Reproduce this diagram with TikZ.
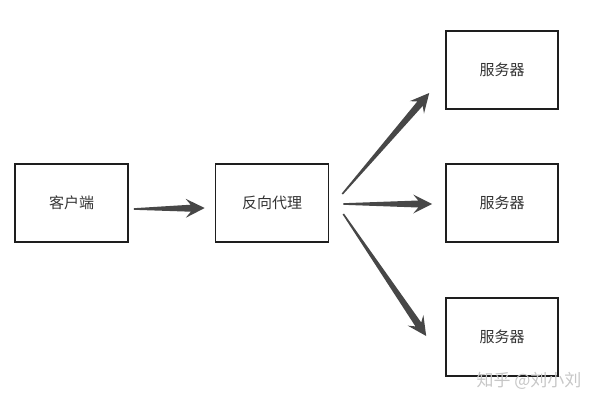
\documentclass[tikz,border=0pt]{standalone}
\usepackage{fontspec}
\newfontfamily\cjk{Noto Sans CJK SC}
\usetikzlibrary{calc}
\definecolor{boxline}{HTML}{1E1E1E}
\definecolor{arrowgray}{HTML}{474747}
\tikzset{
    box/.style={draw=boxline, line width=1.6pt, minimum width=113pt, minimum height=78pt,
        inner sep=0pt, font=\cjk\fontsize{15}{17}\selectfont, text=black!80},
}
% tapered arrow from #1 to #2
\newcommand{\taperarrow}[2]{
    \coordinate (hb) at ($(#2)!19pt!(#1)$);
    \coordinate (hj) at ($(#2)!14pt!(#1)$);
    \fill[arrowgray] ($(#1)!0.8pt!90:(#2)$) -- ($(hj)!3.5pt!90:(#2)$) -- ($(hb)!9.5pt!90:(#2)$)
        -- (#2) -- ($(hb)!9.5pt!-90:(#2)$) -- ($(hj)!3.5pt!-90:(#2)$) -- ($(#1)!0.8pt!-90:(#2)$) -- cycle;
}
\begin{document}
\begin{tikzpicture}[x=1pt, y=-1pt]
    \useasboundingbox (0,0) rectangle (600,400);
    \node[box] (client) at (71.5,203) {客户端};
    \node[box] (proxy) at (272,203) {反向代理};
    \foreach \i/\y in {1/70, 2/203, 3/337} {
        \node[box, minimum width=112pt] (server\i) at (502,\y) {服务器};
    }
    % arrow ends
    \coordinate (a0) at ($(client.east)+(5,6)$);
    \coordinate (b0) at ($(proxy.west)+(-10,5)$);
    \coordinate (a1) at ($(proxy.east)+(13,-9)$);
    \coordinate (b1) at ($(server1.west)+(-16,23)$);
    \coordinate (a2) at ($(proxy.east)+(14,1)$);
    \coordinate (b2) at ($(server2.west)+(-13,1)$);
    \coordinate (a3) at ($(proxy.east)+(14,11)$);
    \coordinate (b3) at ($(server3.west)+(-19,-1)$);
    \taperarrow{a0}{b0}
    \foreach \i in {1, 2, 3} {
        \taperarrow{a\i}{b\i}
    }
    \node[font=\cjk\fontsize{17}{19}\selectfont, text=black!22] (mark) at (529,381) {知乎 @刘小刘};
\end{tikzpicture}
\end{document}
